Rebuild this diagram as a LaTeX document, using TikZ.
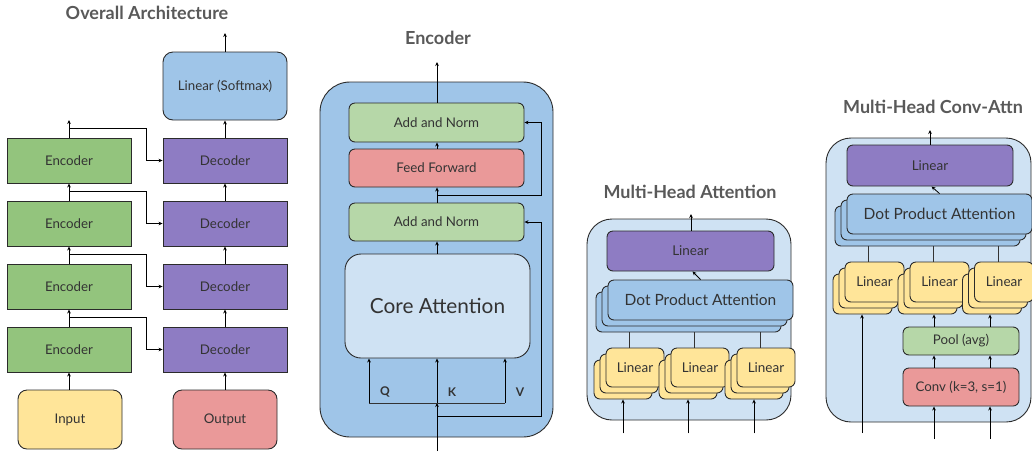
\documentclass[tikz,border=0pt]{standalone}
\usepackage{fontspec}
\setmainfont{Lato}
\usetikzlibrary{arrows.meta,calc}
\definecolor{encgreen}{HTML}{93C47D}
\definecolor{decpurple}{HTML}{8E7CC3}
\definecolor{midblue}{HTML}{9FC5E8}
\definecolor{paleblue}{HTML}{CFE2F3}
\definecolor{palegreen}{HTML}{B6D7A8}
\definecolor{salmon}{HTML}{EA9999}
\definecolor{sand}{HTML}{FFE599}
\definecolor{inktext}{HTML}{333333}
\definecolor{titlegray}{HTML}{595959}
\definecolor{edge}{HTML}{2B2B2B}
\begin{document}
\begin{tikzpicture}[x=1pt,y=-1pt,
  box/.style={draw=edge,line width=0.9pt,inner sep=0pt,text=inktext,font=\fontsize{13.3}{15}\selectfont},
  sq/.style={box},
  rbox/.style={box,rounded corners=#1},
  rbox/.default=6pt,
  panel/.style={draw=edge,line width=0.9pt,rounded corners=#1},
  ttl/.style={text=titlegray,font=\bfseries\fontsize{18}{21}\selectfont},
  arr/.style={draw=black,line width=0.8pt,-{Stealth[length=4pt,width=3.6pt]}},
  ln/.style={draw=black!80,line width=0.8pt},
  qkv/.style={font=\bfseries\fontsize{12}{14}\selectfont,text=inktext},
  dpa/.style={font=\fontsize{15.5}{18}\selectfont},
  lin/.style={font=\fontsize{13.5}{16}\selectfont}
]
\useasboundingbox (0,0) rectangle (1032,451);

% ---------------- Overall architecture ----------------
\node[ttl] (t1) at (147,13) {Overall Architecture};
\foreach \i/\y in {1/349.5,2/286.5,3/223.5,4/160.5}{
  \node[sq,fill=encgreen,minimum width=124pt,minimum height=45pt] (e\i) at (69,\y) {Encoder};
  \node[sq,fill=decpurple,minimum width=124pt,minimum height=45pt] (d\i) at (225,\y) {Decoder};
}
\node[rbox=10pt,fill=midblue,minimum width=124pt,minimum height=68pt] (soft) at (225,86) {Linear (Softmax)};
\node[rbox=9pt,fill=sand,minimum width=104pt,minimum height=59pt] (inp) at (70,419.5) {Input};
\node[rbox=9pt,fill=salmon,minimum width=104pt,minimum height=59pt] (outp) at (225,419.5) {Output};
\coordinate (etop) at (69,120);
\coordinate (stop) at (225,33);

\draw[arr] (inp.north -| e1.south) -- (e1.south);
\draw[arr] (outp.north) -- (d1.south);
\draw[arr] (e1.north) -- (e2.south);
\draw[arr] (e2.north) -- (e3.south);
\draw[arr] (e3.north) -- (e4.south);
\draw[arr] (e4.north) -- (etop);
\draw[arr] (d1.north) -- (d2.south);
\draw[arr] (d2.north) -- (d3.south);
\draw[arr] (d3.north) -- (d4.south);
\draw[arr] (d4.north) -- (soft.south);
\draw[arr] (soft.north) -- (stop);
% encoder output fed to the matching decoder
\foreach \i in {1,2,3,4}{
  \draw[arr] ([yshift=9.5pt]e\i.north) -| ([xshift=-16pt]d\i.west) -- (d\i.west);
}

% ---------------- Encoder block ----------------
\node[ttl] (t2) at (438,38) {Encoder};
\node[panel=30pt,fill=midblue,minimum width=233pt,minimum height=355pt] (encp) at (436.5,259.5) {};
\node[rbox=6pt,fill=palegreen,minimum width=175pt,minimum height=39pt] (an2) at (436.5,122.5) {Add and Norm};
\node[rbox=6pt,fill=salmon,minimum width=175pt,minimum height=38pt] (ff) at (436.5,168) {Feed Forward};
\node[rbox=6pt,fill=palegreen,minimum width=175pt,minimum height=38pt] (an1) at (436.5,222) {Add and Norm};
\node[rbox=16pt,fill=paleblue,minimum width=185pt,minimum height=104pt,font=\fontsize{20.8}{24}\selectfont] (core) at (437.5,306) {Core Attention};
\coordinate (encout) at (437,62);
\coordinate (encin) at (437,451);
\coordinate (split) at (437,403);
\coordinate (qb) at (369,403);
\coordinate (vb) at (505,403);
\coordinate (res1) at (437,195);
\coordinate (res2) at (437,416);

\draw[arr] (core.north -| encout) -- (an1.south -| encout);
\draw[arr] (an1.north -| encout) -- (ff.south -| encout);
\draw[arr] (ff.north -| encout) -- (an2.south -| encout);
\draw[arr] (an2.north -| encout) -- (encout);
\draw[arr] (res1) -- (541,195) |- (an2.east);
\draw[arr] (res2) -- (541,416) |- (an1.east);
\draw[arr] (encin) -- (split);
\draw[ln] (qb) -- (vb);
\draw[arr] (qb) -- (qb |- core.south);
\draw[arr] (split) -- (split |- core.south);
\draw[arr] (vb) -- (vb |- core.south);
\node[qkv] (lq) at (385,392) {Q};
\node[qkv] (lk) at (452,392) {K};
\node[qkv] (lv) at (520,392) {V};

% ---------------- Multi-head attention ----------------
\node[ttl] (t3) at (690,192) {Multi-Head Attention};
\node[panel=25pt,fill=paleblue,minimum width=204pt,minimum height=201pt] (mhp) at (689,319.5) {};
\node[rbox=6pt,fill=decpurple,minimum width=167pt,minimum height=40pt,lin] (mlin) at (690.5,251) {Linear};
\node[rbox=6pt,fill=midblue,minimum width=185pt,minimum height=40pt] (mdp3) at (688.5,312) {};
\node[rbox=6pt,fill=midblue,minimum width=185pt,minimum height=40pt] (mdp2) at (694.5,306) {};
\node[rbox=6pt,fill=midblue,minimum width=185pt,minimum height=40pt,dpa] (mdp1) at (700.5,300) {Dot Product Attention};
\foreach \k/\x in {1/635,2/700,3/766}{
  \node[rbox=6pt,fill=sand,minimum width=58pt,minimum height=39pt] (mh\k c) at (\x-12,379.5) {};
  \node[rbox=6pt,fill=sand,minimum width=58pt,minimum height=39pt] (mh\k b) at (\x-6,373.5) {};
  \node[rbox=6pt,fill=sand,minimum width=58pt,minimum height=39pt,lin] (mh\k a) at (\x,367.5) {Linear};
  \draw[ln] (mh\k b.north |- mdp3.south) -- (mh\k b.north |- mh\k a.north);
  \coordinate (min\k) at ($(mh\k c.south)+(0,34)$);
  \draw[arr] (min\k) -- (mh\k c.south);
}
\draw[arr] (mdp1.north) -- ([xshift=-8pt]mdp1.north |- mlin.south);
\coordinate (mout) at (691,214);
\draw[arr] (mlin.north -| mout) -- (mout);

% ---------------- Multi-head conv attention ----------------
\node[ttl] (t4) at (933,107) {Multi-Head Conv-Attn};
\node[panel=25pt,fill=paleblue,minimum width=205pt,minimum height=284pt] (cap) at (928.5,280) {};
\node[rbox=6pt,fill=decpurple,minimum width=166pt,minimum height=41pt,lin] (clin) at (930,165.5) {Linear};
\node[rbox=6pt,fill=midblue,minimum width=185pt,minimum height=40pt] (cdp3) at (927.5,226) {};
\node[rbox=6pt,fill=midblue,minimum width=185pt,minimum height=40pt] (cdp2) at (933.5,220) {};
\node[rbox=6pt,fill=midblue,minimum width=185pt,minimum height=40pt,dpa] (cdp1) at (939.5,214) {Dot Product Attention};
\foreach \k/\x in {1/874.5,2/939.5,3/1004}{
  \node[rbox=6pt,fill=sand,minimum width=59pt,minimum height=40pt] (ch\k c) at (\x-12,294) {};
  \node[rbox=6pt,fill=sand,minimum width=59pt,minimum height=40pt] (ch\k b) at (\x-6,288) {};
  \node[rbox=6pt,fill=sand,minimum width=59pt,minimum height=40pt,lin] (ch\k a) at (\x,282) {Linear};
  \draw[ln] (ch\k b.north |- cdp3.south) -- (ch\k b.north |- ch\k a.north);
}
\node[rbox=6pt,fill=palegreen,minimum width=116pt,minimum height=28pt] (pool) at (961,341) {Pool (avg)};
\node[rbox=6pt,fill=salmon,minimum width=116pt,minimum height=38pt] (conv) at (961,387) {Conv (k=3, s=1)};
\coordinate (cout) at (930,130);
\draw[arr] (clin.north -| cout) -- (cout);
\draw[arr] (cdp1.north) -- ([xshift=-8pt]cdp1.north |- clin.south);
\foreach \x in {934,990}{
  \draw[arr] (\x,439) -- (conv.south -| \x,0);
  \draw[arr] (conv.north -| \x,0) -- (pool.south -| \x,0);
  \draw[arr] (pool.north -| \x,0) -- (ch2c.south -| \x,0);
}
\coordinate (cin1) at (862,433);
\draw[arr] (cin1) -- (cin1 |- ch1c.south);
\end{tikzpicture}
\end{document}
